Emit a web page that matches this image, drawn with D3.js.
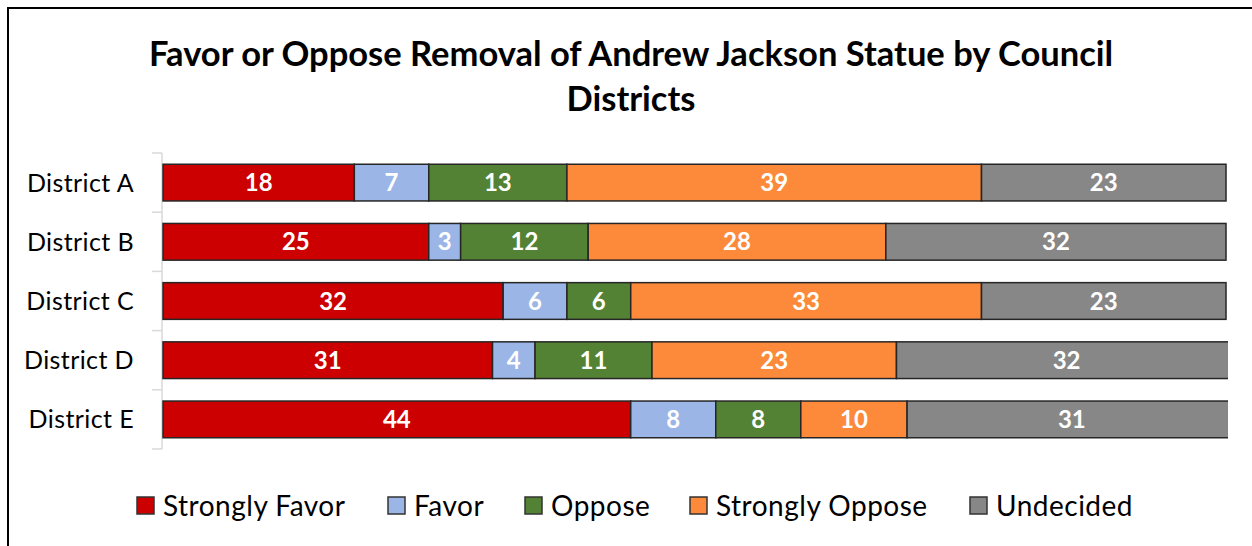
<!DOCTYPE html>
<html><head><meta charset="utf-8">
<script src="https://cdn.jsdelivr.net/npm/d3@7"></script>
<style>body{margin:0;background:#fff;} svg{display:block;}</style>
</head><body>
<script>
const districts = ["District A","District B","District C","District D","District E"];
const seriesNames = ["Strongly Favor","Favor","Oppose","Strongly Oppose","Undecided"];
const stronglyFavor = [18,25,32,31,44];
const favor = [7,3,6,4,8];
const oppose = [13,12,6,11,8];
const stronglyOppose = [39,28,33,23,10];
const undecided = [23,32,23,32,31];
const colors = ["#CC0000","#9AB5E6","#548235","#FD8A3A","#878787"];
const titleLines = ["Favor or Oppose Removal of Andrew Jackson Statue by Council","Districts"];

const W=1252,H=546;
const FONT="Lato, 'Liberation Sans', sans-serif";
const svg=d3.select("body").append("svg").attr("width",W).attr("height",H);

svg.append("rect").attr("x",8).attr("y",8).attr("width",W+20).attr("height",H+20)
  .attr("fill","#fff").attr("stroke","#000").attr("stroke-width",2);

const t=svg.append("text").attr("text-anchor","middle").attr("font-family",FONT)
  .attr("font-weight","bold").attr("font-size",34.5).attr("fill","#000");
titleLines.forEach((l,i)=>t.append("tspan").attr("x",631).attr("y",66+i*45).text(l));

const rows = districts.map((d,i)=>({district:d,values:[stronglyFavor[i],favor[i],oppose[i],stronglyOppose[i],undecided[i]]}));

const x=d3.scaleLinear().domain([0,100]).range([163,1226]);
const y=d3.scaleBand().domain(districts).range([153,449]).paddingInner(0.38).paddingOuter(0.19);

// axis
const ax=svg.append("g").attr("transform","translate(162,0)");
ax.append("line").attr("x1",0).attr("x2",0).attr("y1",153).attr("y2",449).attr("stroke","#d9d9d9").attr("stroke-width",1.5);
d3.range(districts.length+1).forEach(i=>{
  const yy=153+i*y.step();
  ax.append("line").attr("x1",-10).attr("x2",0).attr("y1",yy).attr("y2",yy).attr("stroke","#d9d9d9").attr("stroke-width",1.5);
});
svg.append("g").selectAll("text").data(districts).join("text")
  .attr("x",134).attr("y",d=>y(d)+y.bandwidth()/2).attr("dy","0.36em")
  .attr("text-anchor","end").attr("font-family",FONT).attr("font-size",25).attr("letter-spacing",0.4)
  .attr("fill","#000").text(d=>d);

svg.append("clipPath").attr("id","clip").append("rect").attr("x",150).attr("y",140).attr("width",1228-150).attr("height",330);

const g=svg.append("g").attr("clip-path","url(#clip)");
rows.forEach(r=>{
  let cum=0;
  r.values.forEach((v,k)=>{
    const x0=x(cum),x1=x(cum+v);
    cum+=v;
    g.append("rect").attr("x",x0).attr("y",y(r.district)).attr("width",x1-x0).attr("height",y.bandwidth())
      .attr("fill",colors[k]).attr("stroke","#262626").attr("stroke-width",1.5);
    g.append("text").attr("x",(x0+x1)/2).attr("y",y(r.district)+y.bandwidth()/2).attr("dy","0.36em")
      .attr("text-anchor","middle").attr("font-family",FONT).attr("font-weight","bold").attr("font-size",24)
      .attr("fill","#fff").text(v);
  });
});

// legend
const lg=svg.append("g");
const legendStarts=[137,388,525,690,970];
seriesNames.forEach((s,k)=>{
  const lx=legendStarts[k];
  lg.append("rect").attr("x",lx).attr("y",497).attr("width",17).attr("height",17)
    .attr("fill",colors[k]).attr("stroke","#333").attr("stroke-width",1.5);
  lg.append("text").attr("x",lx+26).attr("y",506).attr("dy","0.36em").attr("font-family",FONT)
    .attr("font-size",28).attr("letter-spacing",0.5).attr("fill","#000").text(s);
});
</script>
</body></html>
